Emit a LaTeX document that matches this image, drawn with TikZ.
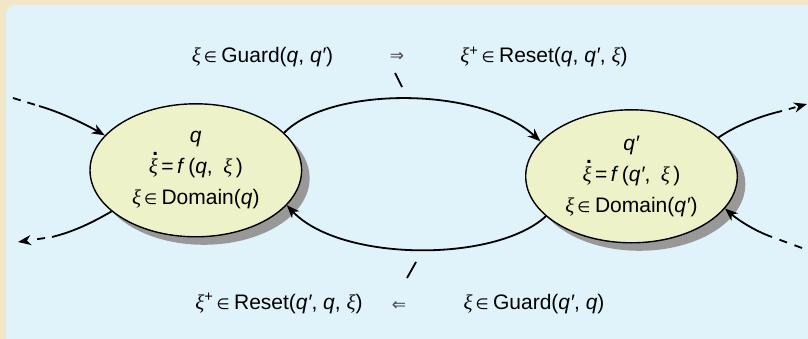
\documentclass[tikz,border=0pt]{standalone}
\usepackage{fontspec}
\setmainfont{Liberation Sans}
\newfontfamily\symf{DejaVu Sans}
\newfontfamily\grk{Liberation Serif}
\usetikzlibrary{arrows.meta,shapes.geometric,shadows}

\definecolor{paper}{RGB}{241,230,200}
\definecolor{panel}{RGB}{224,242,250}
\definecolor{statefill}{RGB}{238,242,200}
\definecolor{shade}{RGB}{152,152,152}
\definecolor{impl}{RGB}{70,70,70}

% symbols used in the labels
\newcommand\vxi{{\grk\itshape ξ}}
\newcommand\vq{\textit{q}}
\newcommand\vqp{\textit{q′}}
\newcommand\elem{\hspace{3pt}{\symf\fontsize{15}{15}\selectfont ∈}\hspace{4.5pt}}
\newcommand\dxi{\leavevmode\rlap{\hspace{0.17em}\raisebox{0.86em}{\textbf{.}}}\vxi}
\newcommand\xiplus{\vxi\textsuperscript{+}}

\begin{document}
\begin{tikzpicture}[x=1pt,y=-1pt,
  state/.style={ellipse, draw, line width=1.4pt, fill=statefill,
    minimum width=211.6pt, minimum height=133pt, inner sep=0pt,
    align=center, font=\fontsize{21}{31}\selectfont,
    drop shadow={shadow xshift=8pt, shadow yshift=-8pt, fill=shade, opacity=1}},
  flow/.style={line width=1.8pt},
  tip/.style={-{Stealth[length=13pt,width=10pt,inset=4pt]}},
  lbl/.style={font=\fontsize{21}{25}\selectfont, anchor=base, inner sep=0pt},
  arr/.style={font=\symf\fontsize{17}{17}\selectfont, text=impl, anchor=base, inner sep=0pt}]

% background and panel
\useasboundingbox (0,0) rectangle (808,339);
\clip (0,0) rectangle (808,339);
\fill[paper] (0,0) rectangle (808,339);
\fill[panel, rounded corners=10pt] (6,5) rectangle (850,380);

% discrete states
\node[state] (q) at (195.8,170.3)
  {\vq\\ \dxi\,=\,\textit{f}\,(\vq,\enspace\vxi\,)\\ \vxi\elem Domain(\vq)};
\node[state] (qq) at (631.5,176.3)
  {\vqp\\ \dxi\,=\,\textit{f}\,(\vqp,\enspace\vxi\,)\\ \vxi\elem Domain(\vqp)};

% transition labels
\node[lbl] (g1) at (262.5,63) {\vxi\elem Guard(\vq, \vqp)};
\node[arr] (i1) at (397,62) {⇒};
\node[lbl] (r1) at (544,63) {\xiplus\elem Reset(\vq, \vqp, \vxi)};
\node[lbl] (r2) at (279,309) {\xiplus\elem Reset(\vqp, \vq, \vxi)};
\node[arr] (i2) at (399,310) {⇐};
\node[lbl] (g2) at (534,309) {\vxi\elem Guard(\vqp, \vq)};

% transitions between the two states
\draw[flow,tip] (q.23.7) .. controls (330,86) and (480,86) .. (qq.159.3);
\draw[flow,tip] (qq.205.5) .. controls (495,263) and (340,262) .. (q.-21.3);

% reset marks
\coordinate (m1a) at (395,73);
\coordinate (m1b) at (402,87);
\coordinate (m2a) at (407,278);
\coordinate (m2b) at (416,262);
\draw[flow] (m1a) -- (m1b);
\draw[flow] (m2a) -- (m2b);

% edges from and to the rest of the automaton
\coordinate (inA) at (13,98);
\coordinate (inB) at (39,106);
\draw[flow, dash pattern=on 8pt off 7pt] (inA) -- (inB);
\draw[flow,tip] (inB) .. controls (60,112) and (85,124) .. (q.159.4);

\coordinate (outA) at (52,237);
\coordinate (outB) at (18,242);
\draw[flow] (q.206.5) .. controls (90,224) and (72,232) .. (outA);
\draw[flow,tip, dash pattern=on 0pt off 7pt on 8pt off 40pt] (outA) -- (outB);

\coordinate (outC) at (782,111);
\coordinate (outD) at (807,104);
\draw[flow] (qq.24.4) .. controls (735,126) and (760,116) .. (outC);
\draw[flow,tip, dash pattern=on 0pt off 7pt on 7pt off 40pt] (outC) -- (outD);

\coordinate (inC) at (802,248);
\coordinate (inD) at (772,237);
\draw[flow, dash pattern=on 8pt off 8pt] (inC) -- (inD);
\draw[flow,tip] (inD) .. controls (755,231) and (738,220) .. (qq.-19.8);
\end{tikzpicture}
\end{document}
